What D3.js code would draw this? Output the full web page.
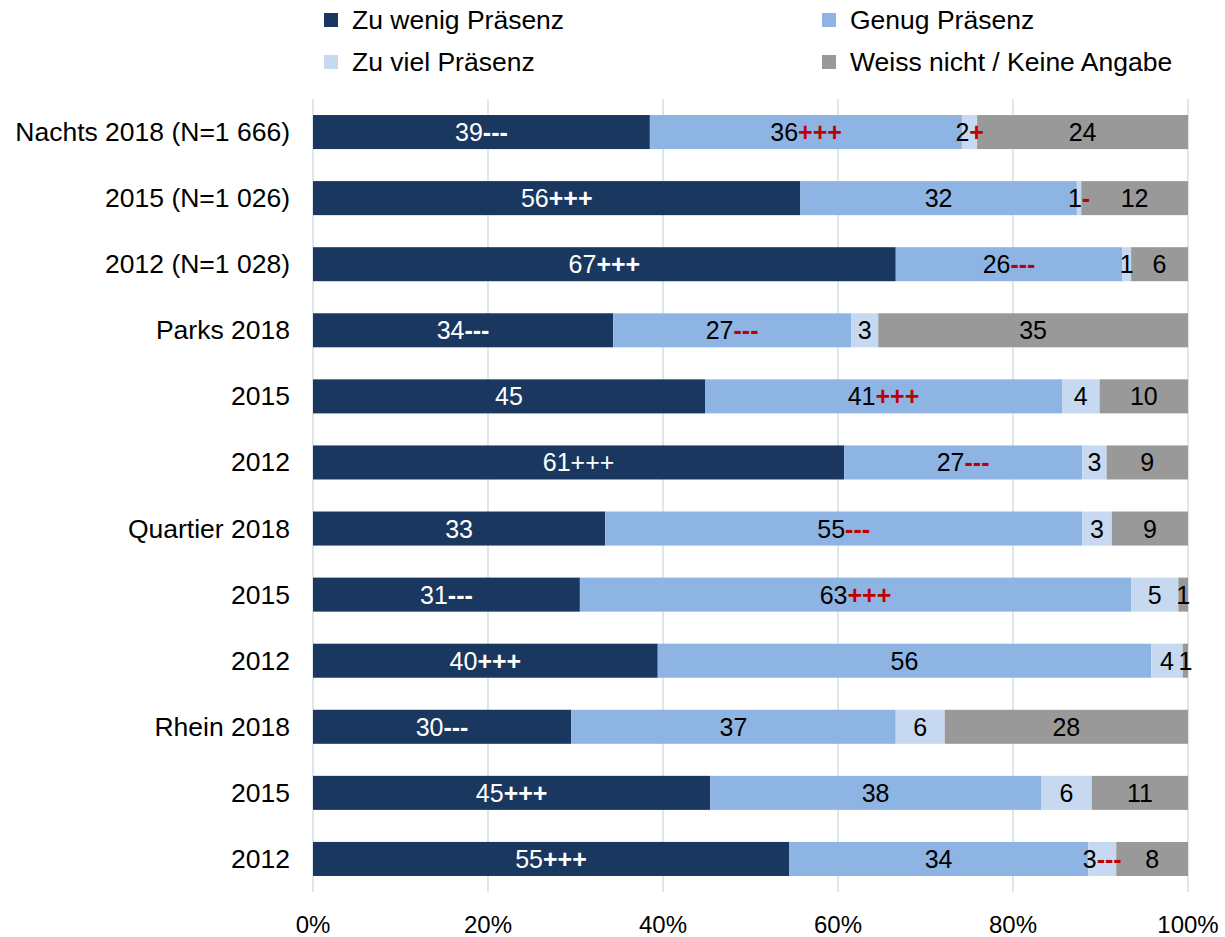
<!DOCTYPE html>
<html>
<head>
<meta charset="utf-8">
<script src="https://cdn.jsdelivr.net/npm/d3@7/dist/d3.min.js"></script>
<style>
  body { margin: 0; background: #fff; }
  svg text { font-family: "Liberation Sans", Arial, sans-serif; }
</style>
</head>
<body>
<svg id="chart" width="1225" height="937"></svg>
<script>
// Kategorien (von oben nach unten)
var categories = ["Nachts 2018 (N=1 666)", "2015 (N=1 026)", "2012 (N=1 028)",
  "Parks 2018", "2015", "2012", "Quartier 2018", "2015", "2012", "Rhein 2018", "2015", "2012"];
var seriesNames = ["Zu wenig Präsenz", "Genug Präsenz", "Zu viel Präsenz", "Weiss nicht / Keine Angabe"];
// Anteile in % (aus Balkenlängen geschätzt)
var zuWenig   = [38.5, 55.7, 66.6, 34.3, 44.8, 60.7, 33.4, 30.5, 39.4, 29.5, 45.4, 54.4];
var genug     = [35.7, 31.6, 25.9, 27.2, 40.8, 27.2, 54.5, 63.0, 56.4, 37.1, 37.8, 34.2];
var zuViel    = [1.7, 0.5, 1.0, 3.1, 4.3, 2.8, 3.4, 5.4, 3.6, 5.6, 5.8, 3.2];
var weissNicht= [24.1, 12.2, 6.5, 35.4, 10.1, 9.3, 8.7, 1.1, 0.6, 27.8, 11.0, 8.2];
// angezeigte Beschriftungen
var lblZuWenig   = [39, 56, 67, 34, 45, 61, 33, 31, 40, 30, 45, 55];
var lblGenug     = [36, 32, 26, 27, 41, 27, 55, 63, 56, 37, 38, 34];
var lblZuViel    = [2, 1, 1, 3, 4, 3, 3, 5, 4, 6, 6, 3];
var lblWeissNicht= [24, 12, 6, 35, 10, 9, 9, 1, 1, 28, 11, 8];
// Signifikanz-Markierungen
var sigZuWenig = ["---", "+++", "+++", "---", "", "+++", "", "---", "+++", "---", "+++", "+++"];
var sigGenug   = ["+++", "", "---", "---", "+++", "---", "---", "+++", "", "", "", ""];
var sigZuViel  = ["+", "-", "", "", "", "", "", "", "", "", "", "---"];
var ticks = [0, 20, 40, 60, 80, 100];

var colors = ["#1a3760", "#8eb4e3", "#c6d9f1", "#999999"];
var textColors = ["#ffffff", "#000000", "#000000", "#000000"];
var sigColors = ["#ffffff", "#c00000", "#c00000", "#c00000"];

var svg = d3.select("#chart");
var plotLeft = 313, plotRight = 1188, plotTop = 99, plotBottom = 892;

var x = d3.scaleLinear().domain([0, 100]).range([plotLeft, plotRight]);
var y = d3.scaleBand().domain(d3.range(categories.length)).range([plotTop, plotBottom])
  .paddingInner(0.485).paddingOuter(0.2425);

// Gitterlinien
svg.append("g").selectAll("line").data(ticks).enter().append("line")
  .attr("x1", function(d){ return x(d); }).attr("x2", function(d){ return x(d); })
  .attr("y1", plotTop).attr("y2", plotBottom)
  .attr("stroke", "#c9dbe3").attr("stroke-width", 1.3);

// Achsenbeschriftung
svg.append("g").selectAll("text").data(ticks).enter().append("text")
  .attr("x", function(d){ return x(d); }).attr("y", 933)
  .attr("text-anchor", "middle").style("font-size", "24px").attr("fill", "#000")
  .text(function(d){ return d + "%"; });

// Kategorien
svg.append("g").selectAll("text").data(categories).enter().append("text")
  .attr("x", 290).attr("y", function(d, i){ return y(i) + y.bandwidth() / 2 + 9; })
  .attr("text-anchor", "end").style("font-size", "26.5px").attr("fill", "#000")
  .text(function(d){ return d; });

// gestapelte Daten
var values = [zuWenig, genug, zuViel, weissNicht];
var labels = [lblZuWenig, lblGenug, lblZuViel, lblWeissNicht];
var sigs = [sigZuWenig, sigGenug, sigZuViel, null];
var rows = categories.map(function(c, i){
  var r = { i: i };
  seriesNames.forEach(function(s, k){ r[k] = values[k][i]; });
  return r;
});
var stacked = d3.stack().keys([0, 1, 2, 3])(rows);

var layers = svg.append("g").selectAll("g").data(stacked).enter().append("g")
  .attr("fill", function(d){ return colors[d.key]; });
layers.selectAll("rect").data(function(d){ return d; }).enter().append("rect")
  .attr("x", function(d){ return x(d[0]); })
  .attr("width", function(d){ return x(d[1]) - x(d[0]); })
  .attr("y", function(d){ return y(d.data.i); })
  .attr("height", y.bandwidth());

// Beschriftungen
stacked.forEach(function(layer){
  var k = layer.key;
  var g = svg.append("g");
  layer.forEach(function(d){
    var i = d.data.i;
    var t = g.append("text")
      .attr("x", x((d[0] + d[1]) / 2))
      .attr("y", y(i) + y.bandwidth() / 2 + 9)
      .attr("text-anchor", "middle")
      .style("font-size", "25px")
      .attr("fill", textColors[k]);
    t.append("tspan").text(labels[k][i]);
    var s = sigs[k] ? sigs[k][i] : "";
    if (s) {
      // bei Parks 2012 ist die Markierung nicht fett
      var bold = !(k === 0 && i === 5);
      t.append("tspan").attr("fill", sigColors[k])
        .style("font-weight", bold ? "bold" : "normal")
        .text(s);
    }
  });
});

// Legende
var legendPos = [[324, 20], [822, 20], [324, 62], [822, 62]];
var legend = svg.append("g").selectAll("g").data(seriesNames).enter().append("g")
  .attr("transform", function(d, i){ return "translate(" + legendPos[i][0] + "," + legendPos[i][1] + ")"; });
legend.append("rect").attr("x", 0).attr("y", -7).attr("width", 14).attr("height", 14)
  .attr("fill", function(d, i){ return colors[i]; });
legend.append("text").attr("x", 28).attr("y", 9).style("font-size", "26.5px").attr("fill", "#000")
  .text(function(d){ return d; });
</script>
</body>
</html>
